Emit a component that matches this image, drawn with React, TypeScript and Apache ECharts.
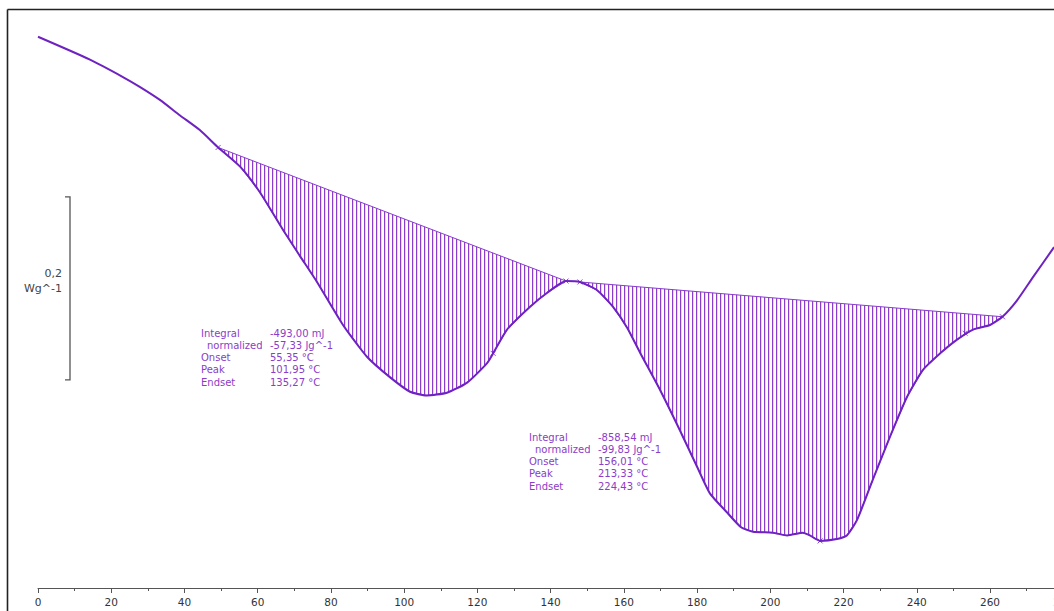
import React, { useEffect, useRef } from 'react';
import * as echarts from 'echarts';

// DSC curve: temperature (°C) vs heat flow (W/g, arbitrary offset)
const temperature = [
  0, 14.2, 23.2, 27.9, 33.3, 38.8, 44.2, 49.2, 55.2, 60.6, 66.9, 71.6, 76.2, 83.3, 89.9, 96.1, 101.6, 106.2, 111.7,
  117.2, 122.6, 124.3, 128.1, 134.4, 139.0, 144.2, 148.0, 152.7, 157.0, 160.9, 164.4, 169.9, 175.3,
  180.0, 183.5, 188.2, 192.0, 195.3, 200.7, 204.6, 208.9, 210.8, 213.6, 218.2, 220.9, 223.7, 228.0,
  232.7, 237.3, 241.7, 246.4, 251.0, 255.4, 260.0, 263.4, 267.4, 271.7, 277.5,
];
const heatFlow = [
  -0.403, -0.428, -0.447, -0.458, -0.472, -0.489, -0.505, -0.524, -0.545, -0.573, -0.614, -0.643, -0.671, -0.718, -0.753, -0.775, -0.791, -0.795, -0.792,
  -0.781, -0.76, -0.749, -0.723, -0.698, -0.683, -0.67, -0.671, -0.68, -0.698, -0.721, -0.748, -0.789, -0.833,
  -0.873, -0.902, -0.923, -0.939, -0.944, -0.945, -0.948, -0.945, -0.948, -0.954, -0.952, -0.948, -0.931, -0.887,
  -0.84, -0.797, -0.767, -0.749, -0.734, -0.723, -0.718, -0.709, -0.691, -0.666, -0.633,
];

// integration limits (baseline end points)
const peak1Range = [49.2, 144.2];
const peak2Range = [148.0, 263.4];

// small limit markers on the curve
const markerTemps = [49.2, 124.3, 144.2, 148.0, 213.6, 253.2, 263.4];
const markerFlows = [-0.524, -0.749, -0.67, -0.671, -0.954, -0.727, -0.709];

// scale bar: 0,2 W/g
const scaleBarTemp = 8.74;
const scaleBarFrom = -0.778;
const scaleBarTo = -0.578;
const scaleBarLabel = '0,2\nWg^-1';

const xMin = 0;
const xMax = 280;
const xInterval = 20;
const yMin = -1.00546;
const yMax = -0.37267;

const annotationLabels = ['Integral', 'normalized', 'Onset', 'Peak', 'Endset'];
const peak1Values = ['-493,00 mJ', '-57,33 Jg^-1', '55,35 °C', '101,95 °C', '135,27 °C'];
const peak2Values = ['-858,54 mJ', '-99,83 Jg^-1', '156,01 °C', '213,33 °C', '224,43 °C'];

const CURVE = '#6e22c0';
const HATCH = '#8a3ccd';
const HATCH_LIGHT = '#e4d4f4';
const TEXT = '#8c3cc8';
const FONT = 'DejaVu Sans';

function segment(range: number[]) {
  const pts: number[][] = [];
  for (let i = 0; i < temperature.length; i++) {
    const t = temperature[i];
    if (t >= range[0] - 1e-6 && t <= range[1] + 1e-6) pts.push([t, heatFlow[i]]);
  }
  return pts;
}

function textBlock(x0: number, y0: number, values: string[]) {
  const els: any[] = [];
  annotationLabels.forEach((lab, i) => {
    els.push({
      type: 'text',
      x: x0 + (i === 1 ? 6 : 0),
      y: y0 + i * 12.3,
      silent: true,
      style: { text: lab, fill: TEXT, fontSize: 10, fontFamily: FONT, verticalAlign: 'middle' },
    });
    els.push({
      type: 'text',
      x: x0 + 69,
      y: y0 + i * 12.3,
      silent: true,
      style: { text: values[i], fill: TEXT, fontSize: 10, fontFamily: FONT, verticalAlign: 'middle' },
    });
  });
  return els;
}

export default function App() {
  const ref = useRef<HTMLDivElement>(null);
  useEffect(() => {
    if (!ref.current) return;
    const chart = echarts.init(ref.current, null, { renderer: 'svg' });

    const c = document.createElement('canvas');
    c.width = 4;
    c.height = 4;
    const ctx = c.getContext('2d')!;
    ctx.fillStyle = HATCH;
    ctx.fillRect(0, 0, 1, 4);
    ctx.fillStyle = HATCH_LIGHT;
    ctx.fillRect(1, 0, 1, 4);
    const hatch: any = { image: c, repeat: 'repeat', imageWidth: 4, imageHeight: 4 };

    const curve = temperature.map((t, i) => [t, heatFlow[i]]);
    const seg1 = segment(peak1Range);
    const seg2 = segment(peak2Range);

    const areaSeries = (seg: number[][]) => ({
      type: 'custom',
      coordinateSystem: 'cartesian2d',
      silent: true,
      z: 2,
      data: [seg[0]],
      renderItem: (_p: any, api: any) => ({
        type: 'polygon',
        shape: { points: seg.map((p) => api.coord(p)) },
        style: { fill: hatch, stroke: HATCH, lineWidth: 1 },
      }),
    });

    chart.setOption({
      animation: false,
      backgroundColor: '#ffffff',
      grid: {
        left: 38,
        top: 9,
        width: (xMax - xMin) * 3.6615,
        bottom: 23,
        containLabel: false,
        outerBoundsMode: 'none',
      },
      xAxis: {
        type: 'value',
        min: xMin,
        max: xMax,
        interval: xInterval,
        axisLine: { show: true, onZero: false, lineStyle: { color: '#555', width: 1 } },
        axisTick: { show: true, length: 5, lineStyle: { color: '#555' } },
        minorTick: { show: true, splitNumber: 2, length: 3, lineStyle: { color: '#555' } },
        splitLine: { show: false },
        axisLabel: { color: '#333', fontSize: 10.5, fontFamily: FONT, margin: 8, showMaxLabel: true },
      },
      yAxis: { type: 'value', min: yMin, max: yMax, show: false },
      series: [
        areaSeries(seg1),
        areaSeries(seg2),
        {
          type: 'line',
          data: curve,
          smooth: 0.2,
          symbol: 'none',
          z: 5,
          lineStyle: { color: CURVE, width: 2 },
          silent: true,
        },
        {
          type: 'scatter',
          data: markerTemps.map((t, i) => [t, markerFlows[i]]),
          symbol: 'path://M0,0L10,10M10,0L0,10',
          symbolSize: 5,
          z: 6,
          itemStyle: { color: 'rgba(0,0,0,0)', borderColor: CURVE, borderWidth: 1 },
          silent: true,
        },
        {
          type: 'custom',
          coordinateSystem: 'cartesian2d',
          silent: true,
          data: [[scaleBarTemp, scaleBarFrom]],
          renderItem: (_p: any, api: any) => {
            const top = api.coord([scaleBarTemp, scaleBarTo]);
            const bot = api.coord([scaleBarTemp, scaleBarFrom]);
            return {
              type: 'group',
              children: [
                {
                  type: 'polyline',
                  shape: { points: [[top[0] - 5, top[1]], top, bot, [bot[0] - 5, bot[1]]] },
                  style: { stroke: '#555', lineWidth: 1.3, fill: null },
                },
                {
                  type: 'text',
                  x: top[0] - 8,
                  y: (top[1] + bot[1]) / 2 - 7,
                  style: {
                    text: scaleBarLabel,
                    align: 'right',
                    verticalAlign: 'middle',
                    fill: '#444',
                    fontSize: 11,
                    fontFamily: FONT,
                    lineHeight: 15,
                  },
                },
              ],
            };
          },
        },
      ],
      graphic: [
        {
          type: 'line',
          silent: true,
          shape: { x1: 7.5, y1: 9.5, x2: 7.5, y2: 620 },
          style: { stroke: '#222', lineWidth: 1.6 },
        },
        {
          type: 'line',
          silent: true,
          shape: { x1: 7.5, y1: 9.5, x2: 1060, y2: 9.5 },
          style: { stroke: '#222', lineWidth: 1.6 },
        },
        ...textBlock(201, 333, peak1Values),
        ...textBlock(529, 437, peak2Values),
      ],
    });
    return () => chart.dispose();
  }, []);
  return (
    <div
      ref={ref}
      style={{ position: 'fixed', left: 0, top: 0, width: 1054, height: 611, background: '#fff' }}
    />
  );
}
